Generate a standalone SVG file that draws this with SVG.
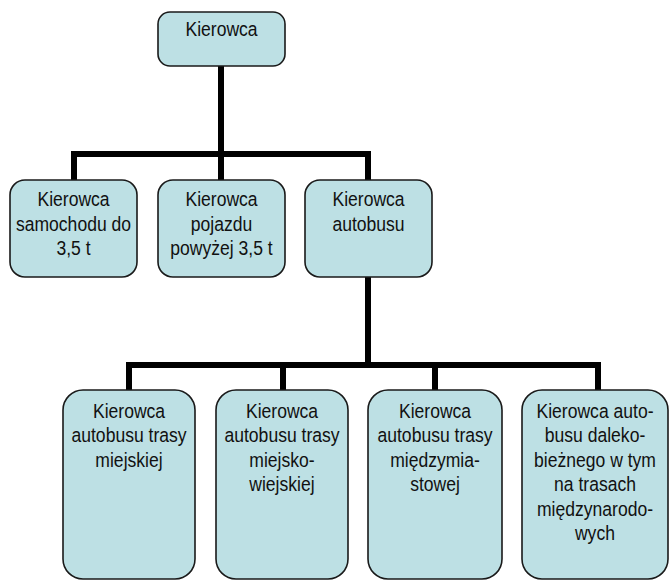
<svg xmlns="http://www.w3.org/2000/svg" width="670" height="581" viewBox="0 0 670 581">
<style>
.box{fill:#BDE0E4;stroke:#1a1a1a;stroke-width:1.6}
.t{font-family:"Liberation Sans",Arial,sans-serif;font-size:19.5px;fill:#111;text-anchor:middle;transform-box:fill-box;transform-origin:center;transform:scaleX(0.9)}
.c{stroke:#000;stroke-width:6;fill:none;stroke-linecap:butt;stroke-linejoin:miter}
</style>
<rect width="670" height="581" fill="#fff"/>
<g id="connectors">
<path class="c" d="M221 66V154M74 180V154H368V180M221 154V180"/>
<path class="c" d="M368 277V365M129 390V365H598V390M283 365V390M435 365V390"/>
</g>
<g id="root">
<rect class="box" x="158" y="12" width="127" height="54" rx="12"/>
<text class="t" x="221.5" y="36.5">Kierowca</text>
</g>
<g id="n1">
<rect class="box" x="10" y="180" width="127" height="97" rx="15"/>
<text class="t" x="73.5" y="206.5">Kierowca</text>
<text class="t" x="73.5" y="231">samochodu do</text>
<text class="t" x="73.5" y="255.5">3,5 t</text>
</g>
<g id="n2">
<rect class="box" x="158" y="180" width="127" height="97" rx="15"/>
<text class="t" x="221.5" y="206.5">Kierowca</text>
<text class="t" x="221.5" y="231">pojazdu</text>
<text class="t" x="221.5" y="255.5">powyżej 3,5 t</text>
</g>
<g id="n3">
<rect class="box" x="305" y="180" width="127" height="97" rx="15"/>
<text class="t" x="368.5" y="206.5">Kierowca</text>
<text class="t" x="368.5" y="231">autobusu</text>
</g>
<g id="b1">
<rect class="box" x="63" y="390" width="132" height="189" rx="20"/>
<text class="t" x="129" y="418">Kierowca</text>
<text class="t" x="129" y="442.5">autobusu trasy</text>
<text class="t" x="129" y="467">miejskiej</text>
</g>
<g id="b2">
<rect class="box" x="216" y="390" width="132" height="189" rx="20"/>
<text class="t" x="282" y="418">Kierowca</text>
<text class="t" x="282" y="442.5">autobusu trasy</text>
<text class="t" x="282" y="467">miejsko-</text>
<text class="t" x="282" y="491.5">wiejskiej</text>
</g>
<g id="b3">
<rect class="box" x="368" y="390" width="134" height="189" rx="20"/>
<text class="t" x="435" y="418">Kierowca</text>
<text class="t" x="435" y="442.5">autobusu trasy</text>
<text class="t" x="435" y="467">międzymia-</text>
<text class="t" x="435" y="491.5">stowej</text>
</g>
<g id="b4">
<rect class="box" x="522" y="390" width="146" height="189" rx="20"/>
<text class="t" x="595" y="418">Kierowca auto-</text>
<text class="t" x="595" y="442.5">busu daleko-</text>
<text class="t" x="595" y="467">bieżnego w tym</text>
<text class="t" x="595" y="491.5">na trasach</text>
<text class="t" x="595" y="516">międzynarodo-</text>
<text class="t" x="595" y="540.5">wych</text>
</g>
</svg>
